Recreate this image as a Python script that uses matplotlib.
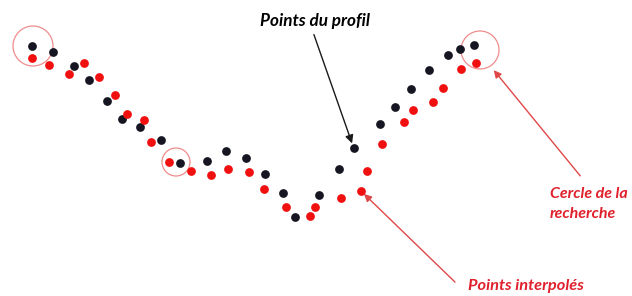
import matplotlib.pyplot as plt
from matplotlib.patches import Circle

# points (pixel coords, y goes down)
profil_x = [32, 53, 74, 89, 107, 122, 140, 161, 180, 207, 226, 246, 265,
            283, 295, 319, 339, 354, 380, 395, 411, 429, 448, 460, 474]
profil_y = [46, 52, 66, 80, 101, 119, 127, 140, 163, 161, 151, 158, 174,
            193, 217, 195, 169, 148, 124, 107, 89, 70, 55, 49, 45]

interp_x = [32, 49, 69, 84, 99, 115, 127, 144, 151, 169, 191, 211, 228, 249,
            264, 286, 310, 315, 341, 361, 367, 382, 404, 413, 433, 443, 461, 476]
interp_y = [58, 65, 74, 63, 77, 95, 114, 120, 142, 162, 171, 175, 169, 172,
            189, 207, 216, 207, 198, 191, 171, 144, 122, 110, 102, 88, 69, 63]

# search circles: centre x, centre y, radius
circ_x = [33, 176, 480]
circ_y = [46, 162, 50]
circ_r = [20, 14, 19]

black = '#161622'
red = '#f01010'
txt_red = '#e0202c'
font = ['Lato', 'DejaVu Sans']

fig = plt.figure(figsize=(6.32, 2.96), dpi=100)
ax = fig.add_axes([0, 0, 1, 1])
ax.set_xlim(0, 632)
ax.set_ylim(296, 0)
ax.axis('off')

ax.plot(profil_x, profil_y, 'o', color=black, ms=6.3, mec='none')
ax.plot(interp_x, interp_y, 'o', color=red, ms=6.3, mec='none')

for cx, cy, r in zip(circ_x, circ_y, circ_r):
    ax.add_patch(Circle((cx, cy), r, fill=False, ec='#f08c8c', lw=0.9))

# labels and arrows
ax.annotate('', xy=(353, 146), xytext=(313, 32),
            arrowprops=dict(arrowstyle='-|>', color='#1a1a1a', lw=1.0,
                            mutation_scale=12))
ax.text(315, 21, 'Points du profil', ha='center', va='center', family=font,
        fontsize=12.3, fontweight='bold', color='black', fontstyle='italic')

ax.annotate('', xy=(492, 68), xytext=(582, 178),
            arrowprops=dict(arrowstyle='-|>', color='#e04848', lw=1.0,
                            mutation_scale=11))
ax.text(550, 194, 'Cercle de la', ha='left', va='center', family=font,
        fontsize=11.5, fontweight='bold', color=txt_red, fontstyle='italic')
ax.text(550, 214, 'recherche', ha='left', va='center', family=font,
        fontsize=11.5, fontweight='bold', color=txt_red, fontstyle='italic')

ax.annotate('', xy=(362, 192), xytext=(457, 284),
            arrowprops=dict(arrowstyle='-|>', color='#e04848', lw=1.0,
                            mutation_scale=11))
ax.text(526, 286, 'Points interpolés', ha='center', va='center', family=font,
        fontsize=11.8, fontweight='bold', color=txt_red, fontstyle='italic')

fig.savefig('out.png', dpi=100)
